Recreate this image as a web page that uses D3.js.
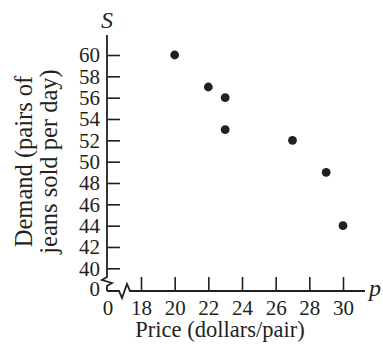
<!DOCTYPE html>
<html><head><meta charset="utf-8">
<script src="https://cdn.jsdelivr.net/npm/d3@7"></script>
<style>
html,body{margin:0;padding:0;background:#fff;}
svg{display:block;}
text{font-family:"Liberation Serif","Times New Roman",serif;fill:#231f20;}
</style></head>
<body><svg id="c" width="383" height="352"></svg>
<script>
const price = [20, 22, 23, 23, 27, 29, 30];
const demand = [60, 57, 56, 53, 52, 49, 44];
const xTicks = [18, 20, 22, 24, 26, 28, 30];
const yTicks = [40, 42, 44, 46, 48, 50, 52, 54, 56, 58, 60];
const xTitle = "Price (dollars/pair)";
const yTitle = ["Demand (pairs of", "jeans sold per day)"];

const ink = "#231f20";
const fs = 21;
const svg = d3.select("#c");
const ox = 107, oy = 291;
const x = d3.scaleLinear().domain([18, 30]).range([141, 343]);
const y = d3.scaleLinear().domain([40, 60]).range([268.3, 55]);

// y axis
const ya = svg.append("g").attr("transform", `translate(${ox},0)`)
  .call(d3.axisLeft(y).tickValues(yTicks).tickSizeInner(-13).tickSizeOuter(0).tickPadding(7).tickFormat(d3.format("d")));
ya.select(".domain").remove();
ya.selectAll(".tick line").attr("stroke", ink).attr("stroke-width", 1.6);
ya.selectAll(".tick text").attr("font-size", fs).attr("fill", ink).style("font-family", "Liberation Serif");

// x axis
const xa = svg.append("g").attr("transform", `translate(0,${oy})`)
  .call(d3.axisBottom(x).tickValues(xTicks).tickSizeInner(-14).tickSizeOuter(0).tickPadding(9).tickFormat(d3.format("d")));
xa.select(".domain").remove();
xa.selectAll(".tick line").attr("stroke", ink).attr("stroke-width", 1.6);
xa.selectAll(".tick text").attr("font-size", fs).attr("fill", ink).style("font-family", "Liberation Serif");

// axis lines with breaks
const line = d3.line();
svg.append("path").attr("d", line([[ox, 35], [ox, 277], [102, 280], [112, 283], [ox, 286], [ox, oy]]))
  .attr("fill", "none").attr("stroke", ink).attr("stroke-width", 1.8).attr("stroke-linejoin", "miter");
svg.append("path").attr("d", line([[ox, oy], [119, oy], [122, 298], [127, 284], [130, oy], [365, oy]]))
  .attr("fill", "none").attr("stroke", ink).attr("stroke-width", 1.8);

// zero labels
svg.append("text").attr("x", 100).attr("y", oy - 2).attr("dy", "0.32em").attr("text-anchor", "end").attr("font-size", fs).text("0");
svg.append("text").attr("x", ox + 1).attr("y", oy + 9).attr("dy", "0.71em").attr("text-anchor", "middle").attr("font-size", fs).text("0");

// axis letters
svg.append("text").attr("x", 107).attr("y", 28).attr("text-anchor", "middle").attr("font-size", 24).attr("font-style", "italic").text("S");
svg.append("text").attr("x", 375).attr("y", 296).attr("text-anchor", "middle").attr("font-size", 24).attr("font-style", "italic").text("p");

// titles
svg.append("text").attr("x", 220).attr("y", 337).attr("text-anchor", "middle").attr("font-size", 22.5).text(xTitle);
const yt = svg.append("text").attr("transform", "translate(0,161.5) rotate(-90)").attr("text-anchor", "middle").attr("font-size", 24.5);
yTitle.forEach((t, i) => yt.append("tspan").attr("x", 0).attr("y", 32 + i * 25).text(t));

// points
svg.append("g").selectAll("circle").data(price.map((p, i) => [p, demand[i]])).join("circle")
  .attr("cx", d => x(d[0])).attr("cy", d => y(d[1])).attr("r", 4.4).attr("fill", ink);
</script></body></html>
